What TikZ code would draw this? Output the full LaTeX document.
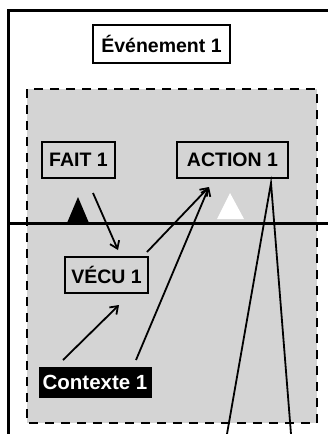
\documentclass[tikz,border=0pt]{standalone}
\usepackage{fontspec}
\setmainfont{Liberation Sans}
\usetikzlibrary{arrows.meta}
\definecolor{panel}{RGB}{212,212,212}
\tikzset{
  lbl/.style={font=\fontsize{19.5}{21}\selectfont\bfseries, inner sep=0pt, align=center},
  framebox/.style={lbl, draw=black, line width=2.2pt, fill=none},
  blackbox/.style={lbl, fill=black, text=white},
  arr/.style={line width=1.8pt, -{Straight Barb[length=7pt,width=10pt,line width=1.8pt]}},
  plain/.style={line width=1.8pt},
}
\begin{document}
\begin{tikzpicture}[x=1pt,y=-1pt]
\useasboundingbox (0,0) rectangle (328,434);
\fill[white] (0,0) rectangle (328,434);
% dashed grey panel
\fill[panel] (27,89) rectangle (317,423);
\draw[line width=2.6pt, dash pattern=on 9pt off 7pt] (27,89) rectangle (317,423);
% outer frame (top and left)
\draw[line width=3pt] (8,434) -- (8,10) -- (328,10);
% horizontal line
\draw[line width=3pt] (8,223) -- (328,223);
% triangles
\fill[black] (67,223) -- (78,197) -- (89,223) -- cycle;
\fill[white] (217,219) -- (230,193) -- (244,219) -- cycle;
% nodes
\node[framebox, minimum width=137pt, minimum height=38pt] (evt) at (161.5,44) {Événement 1};
\node[framebox, minimum width=73pt, minimum height=36pt] (fait) at (78.5,160) {FAIT 1};
\node[framebox, minimum width=111pt, minimum height=36pt] (action) at (232.5,160) {ACTION 1};
\node[framebox, minimum width=83pt, minimum height=36pt] (vecu) at (106.5,275) {VÉCU 1};
\node[blackbox, minimum width=113pt, minimum height=31pt, font=\fontsize{20.5}{22}\selectfont\bfseries] (ctx) at (95,382.5) {Contexte 1};
% connector end points
\coordinate (f1) at (93,193);
\coordinate (v1) at (118,250);
\coordinate (v2) at (147,252);
\coordinate (a1) at (209,187);
\coordinate (c1) at (136,360);
\coordinate (c2) at (63,360);
\coordinate (v3) at (119,305);
\coordinate (a2) at (271,183);
\coordinate (b1) at (227,434);
\coordinate (b2) at (291,434);
% connectors
\draw[arr] (f1) -- (v1);
\draw[arr] (v2) -- (a1);
\draw[arr] (c1) -- (a1);
\draw[arr] (c2) -- (v3);
\draw[plain] (b1) -- (a2) -- (b2);
\end{tikzpicture}
\end{document}
